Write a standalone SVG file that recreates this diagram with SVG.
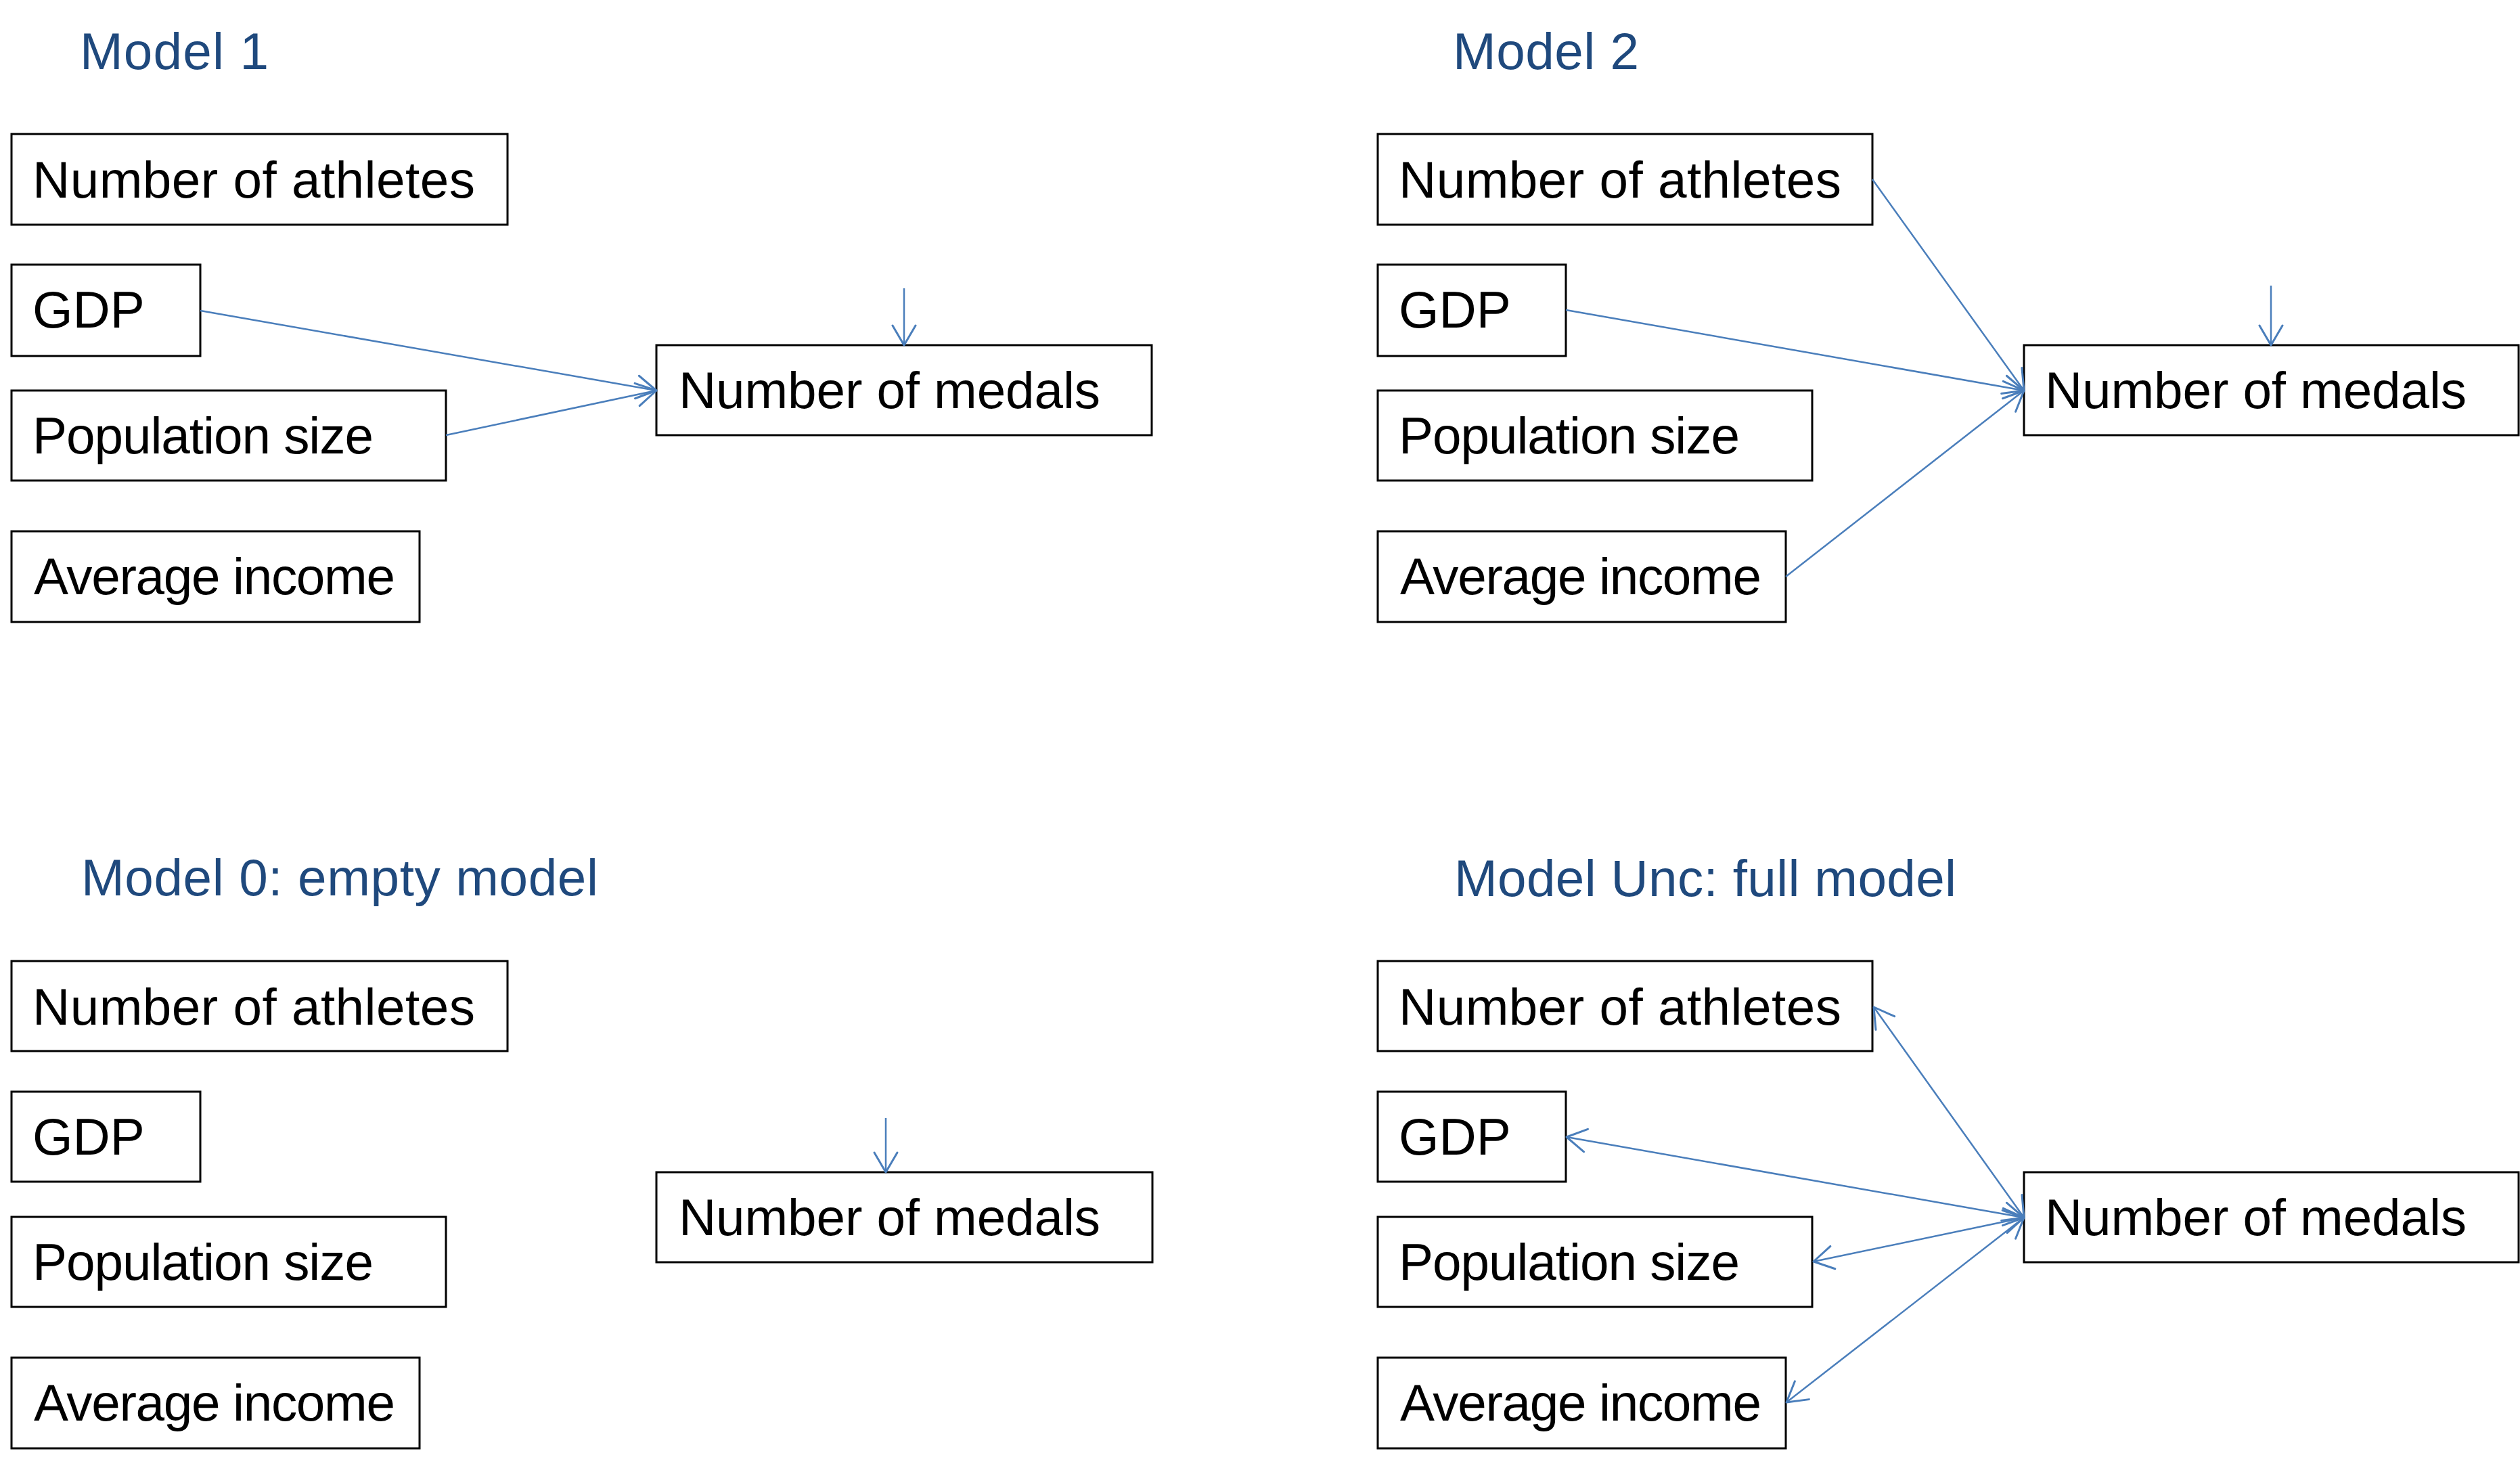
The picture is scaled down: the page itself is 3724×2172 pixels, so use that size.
<svg xmlns="http://www.w3.org/2000/svg" width="3724" height="2172" viewBox="0 0 3724 2172">
<defs>
<style>
.title{font-family:"Liberation Sans",Arial,sans-serif;font-size:76.5px;fill:#1F497D}
.box rect{fill:#ffffff;stroke:#000000;stroke-width:3}
.box text{font-family:"Liberation Sans",Arial,sans-serif;font-size:76.5px;fill:#000000}
.conn line{stroke:#4A7EBB;stroke-width:2.5;fill:none}
.one{marker-end:url(#arr)}
.two{marker-end:url(#arr);marker-start:url(#arr)}
</style>
<marker id="arr" markerUnits="userSpaceOnUse" markerWidth="36" markerHeight="40" viewBox="0 0 36 40" refX="32" refY="20" orient="auto-start-reverse">
<path d="M3,3 L32,20 L3,37" fill="none" stroke="#4A7EBB" stroke-width="3" stroke-linecap="round" stroke-linejoin="round"/>
</marker>
</defs>
<rect width="3724" height="2172" fill="#ffffff"/>

<!-- Titles -->
<text class="title" x="118" y="102" textLength="279">Model 1</text>
<text class="title" x="2147" y="102" textLength="275">Model 2</text>
<text class="title" x="120" y="1323" textLength="764">Model 0: empty model</text>
<text class="title" x="2149" y="1324" textLength="742">Model Unc: full model</text>

<!-- Model 1 -->
<g id="m1-athletes" class="box"><rect x="17" y="198" width="733" height="134"/><text x="48" y="292" textLength="654">Number of athletes</text></g>
<g id="m1-gdp" class="box"><rect x="17" y="391" width="279" height="135"/><text x="48" y="484">GDP</text></g>
<g id="m1-population" class="box"><rect x="17" y="577" width="642" height="133"/><text x="48" y="670" textLength="504">Population size</text></g>
<g id="m1-income" class="box"><rect x="17" y="785" width="603" height="134"/><text x="50" y="878" textLength="534">Average income</text></g>
<g id="m1-medals" class="box"><rect x="970" y="510" width="732" height="133"/><text x="1003" y="603" textLength="623">Number of medals</text></g>

<!-- Model 2 -->
<g id="m2-athletes" class="box"><rect x="2036" y="198" width="731" height="134"/><text x="2067" y="292" textLength="654">Number of athletes</text></g>
<g id="m2-gdp" class="box"><rect x="2036" y="391" width="278" height="135"/><text x="2067" y="484">GDP</text></g>
<g id="m2-population" class="box"><rect x="2036" y="577" width="642" height="133"/><text x="2067" y="670" textLength="504">Population size</text></g>
<g id="m2-income" class="box"><rect x="2036" y="785" width="603" height="134"/><text x="2069" y="878" textLength="534">Average income</text></g>
<g id="m2-medals" class="box"><rect x="2991" y="510" width="731" height="133"/><text x="3022" y="603" textLength="623">Number of medals</text></g>

<!-- Model 0 -->
<g id="m0-athletes" class="box"><rect x="17" y="1420" width="733" height="133"/><text x="48" y="1514" textLength="654">Number of athletes</text></g>
<g id="m0-gdp" class="box"><rect x="17" y="1613" width="279" height="133"/><text x="48" y="1706">GDP</text></g>
<g id="m0-population" class="box"><rect x="17" y="1798" width="642" height="133"/><text x="48" y="1891" textLength="504">Population size</text></g>
<g id="m0-income" class="box"><rect x="17" y="2006" width="603" height="134"/><text x="50" y="2099" textLength="534">Average income</text></g>
<g id="m0-medals" class="box"><rect x="970" y="1732" width="733" height="133"/><text x="1003" y="1825" textLength="623">Number of medals</text></g>

<!-- Model Unc -->
<g id="mu-athletes" class="box"><rect x="2036" y="1420" width="731" height="133"/><text x="2067" y="1514" textLength="654">Number of athletes</text></g>
<g id="mu-gdp" class="box"><rect x="2036" y="1613" width="278" height="133"/><text x="2067" y="1706">GDP</text></g>
<g id="mu-population" class="box"><rect x="2036" y="1798" width="642" height="133"/><text x="2067" y="1891" textLength="504">Population size</text></g>
<g id="mu-income" class="box"><rect x="2036" y="2006" width="603" height="134"/><text x="2069" y="2099" textLength="534">Average income</text></g>
<g id="mu-medals" class="box"><rect x="2991" y="1732" width="731" height="133"/><text x="3022" y="1825" textLength="623">Number of medals</text></g>

<!-- Connectors -->
<g id="connectors" class="conn">
<line class="one" x1="296" y1="459" x2="970" y2="577"/>
<line class="one" x1="659" y1="643" x2="970" y2="577"/>
<line class="one" x1="1336" y1="426" x2="1336" y2="510"/>

<line class="one" x1="2767" y1="265" x2="2991" y2="577"/>
<line class="one" x1="2314" y1="458" x2="2991" y2="577"/>
<line class="one" x1="2639" y1="852" x2="2991" y2="577"/>
<line class="one" x1="3356" y1="422" x2="3356" y2="510"/>

<line class="one" x1="1309" y1="1652" x2="1309" y2="1732"/>

<line class="two" x1="2991" y1="1799" x2="2769" y2="1488"/>
<line class="two" x1="2991" y1="1799" x2="2315" y2="1680"/>
<line class="two" x1="2991" y1="1799" x2="2680" y2="1864"/>
<line class="two" x1="2991" y1="1799" x2="2640" y2="2072"/>
</g>
</svg>
